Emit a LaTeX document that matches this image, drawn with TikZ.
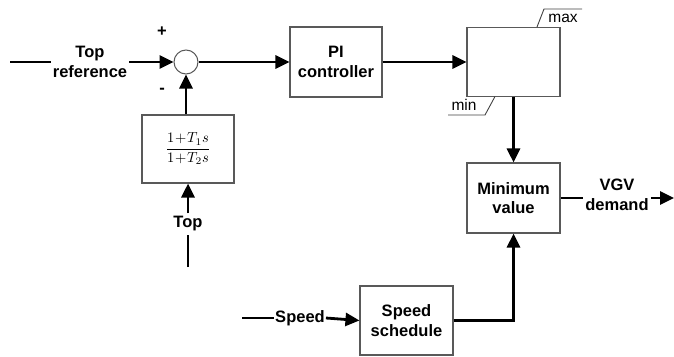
\documentclass[tikz,border=0pt]{standalone}
\usepackage{graphicx}
\usepackage{fontspec}
\setmainfont{Liberation Sans}
\usetikzlibrary{arrows.meta,positioning}
\begin{document}
\begin{tikzpicture}[x=1pt,y=-1pt,
  blk/.style={draw=black!65,line width=1.1pt,minimum width=93pt,minimum height=70pt,inner sep=0pt,align=center,font=\fontsize{16.5}{19.5}\selectfont\bfseries},
  lbl/.style={inner sep=2pt,align=center,font=\fontsize{16.5}{19.5}\selectfont\bfseries},
  wire/.style={line width=2.8pt},
  arr/.style={line width=2.8pt,-{Triangle[length=14pt,width=13pt]}},
  thin/.style={line width=0.9pt,black!75}]
\useasboundingbox (0,0) rectangle (674,356);
% blocks
\node[circle,draw=black!65,line width=1pt,minimum size=24pt,inner sep=0pt] (sum) at (186,62) {};
\node[blk,minimum width=92pt] (pi) at (336,62) {PI\\controller};
\node[blk,minimum height=69pt] (sat) at (513.5,62) {};
\node[blk,minimum width=92pt,minimum height=68pt] (tf) at (188,149) {\normalsize\scalebox{1.45}{\medmuskip=1mu$\displaystyle\frac{1+T_1s}{1+T_2s}$}};
\node[blk] (minv) at (513.5,198) {Minimum\\value};
\node[blk,minimum height=69pt] (ss) at (406.5,320.5) {Speed\\schedule};
% labels
\node[lbl] (topref) at (90,62) {Top\\reference};
\node[lbl,inner sep=3pt] (top) at (188,224) {Top};
\node[lbl,inner sep=1pt] (speed) at (300,318) {Speed};
\node[lbl,inner sep=2pt] (vgv) at (617,195) {VGV\\demand};
\node[lbl] (plus) at (162,32) {+};
\node[lbl] (minus) at (162,91) {-};
\coordinate (in1) at (10,62);
\coordinate (in2) at (188,267);
\coordinate (in3) at (242,318);
\coordinate (out) at (674,198);
% connectors
\draw[wire] (in1) -- (topref.west);
\draw[arr] (topref.east) -- (sum.west);
\draw[arr] (sum.east) -- (pi.west);
\draw[arr] (pi.east) -- (sat.west);
\draw[arr] (tf.north -| sum) -- (sum.south);
\draw[wire] (in2) -- (top.south);
\draw[arr] (top.north) -- (tf.south);
\draw[arr] (sat.south) -- (minv.north);
\draw[wire] (in3) -- (speed.west);
\draw[arr] (speed.east) -- (ss.west);
\draw[arr] (ss.east) -| (minv.south);
\draw[wire] (minv.east |- 0,198) -- (vgv.west |- 0,198);
\draw[arr] (vgv.east |- 0,198) -- (out);
% saturation labels
\draw[thin] (537,27) -- (544,9) -- (582,9);
\node[font=\fontsize{15.5}{18}\selectfont,inner sep=0pt] (maxl) at (563,18) {max};
\draw[thin] (495,96.5) -- (485,115) -- (448,115);
\node[font=\fontsize{15.5}{18}\selectfont,inner sep=0pt] (minl) at (464,105) {min};
\end{tikzpicture}
\end{document}
